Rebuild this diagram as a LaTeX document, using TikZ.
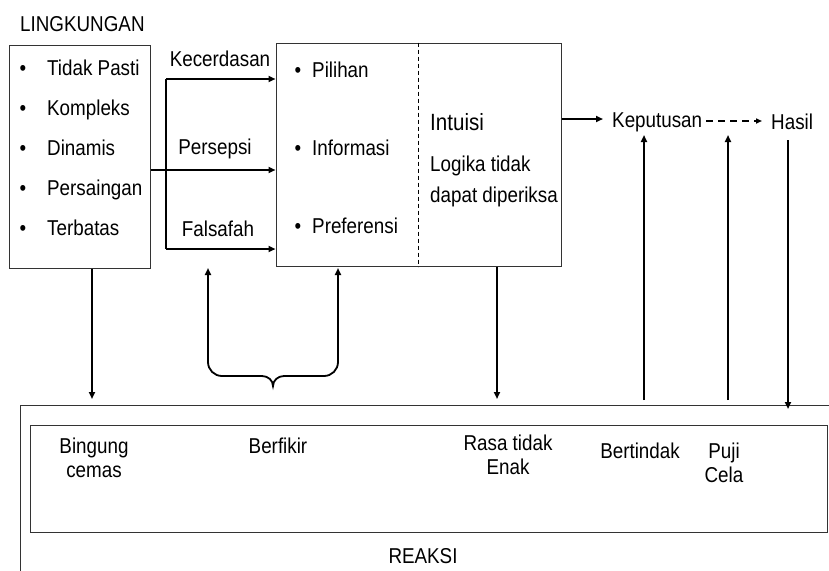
\documentclass[tikz,border=0pt]{standalone}
\usepackage{fontspec}
\setmainfont{Liberation Sans}[FakeStretch=0.875]
\usetikzlibrary{arrows.meta}
\begin{document}
\begin{tikzpicture}[x=1pt,y=-1pt,
  box/.style={draw=black!80, line width=1pt, inner sep=0pt},
  arr/.style={line width=1.8pt, -{Triangle[length=7pt,width=6pt]}},
  brc/.style={line width=1.8pt, {Triangle[length=7pt,width=6pt]}-{Triangle[length=7pt,width=6pt]}},
  lbl/.style={inner sep=0pt, anchor=base, font=\fontsize{21.5}{25}\selectfont},
  lblw/.style={lbl, anchor=base west},
  big/.style={inner sep=0pt, anchor=base west, font=\fontsize{23.5}{26}\selectfont}]
\useasboundingbox (0,0) rectangle (829,570);

% boxes
\node[box, minimum width=141pt, minimum height=223pt] (env) at (79.5,156.5) {};
\node[box, minimum width=285pt, minimum height=223pt] (mid) at (418.5,154.5) {};
\coordinate (dv) at (418,0);
\draw[line width=0.8pt, dash pattern=on 4pt off 3pt] (mid.north -| dv) -- (mid.south -| dv);
\node[box, anchor=north west, minimum width=840pt, minimum height=220pt] (reaksi) at (20,405) {};
\node[box, line width=1.2pt, anchor=north west, minimum width=797pt, minimum height=107pt] (inner) at (30,425) {};

% texts
\node[lblw] (ling) at (20,31) {LINGKUNGAN};
\foreach \t/\yy/\n in {Tidak Pasti/75/a, Kompleks/115/b, Dinamis/155/c, Persaingan/195/d, Terbatas/235/e}{
  \node[lblw] (et\n) at (47,\yy) {\t};
  \node[lbl] (eb\n) at (23,\yy) {•};
}
\foreach \t/\yy/\n in {Pilihan/77/a, Informasi/155/b, Preferensi/233/c}{
  \node[lblw] (mt\n) at (312,\yy) {\t};
  \node[lbl] (mb\n) at (298,\yy) {•};
}
\node[big] (intu) at (430,130) {Intuisi};
\node[lblw] (log1) at (430,171) {Logika tidak};
\node[lblw] (log2) at (430,202) {dapat diperiksa};

\node[lbl] (kec) at (220,66) {Kecerdasan};
\node[lbl] (per) at (215,154) {Persepsi};
\node[lbl] (fal) at (218,236) {Falsafah};

\node[lblw] (kep) at (612,127) {Keputusan};
\node[lblw] (hasil) at (771,129) {Hasil};

\node[lbl] (bing1) at (94,453) {Bingung};
\node[lbl] (bing2) at (94,477) {cemas};
\node[lbl] (berf) at (278,453) {Berfikir};
\node[lbl] (rasa1) at (508,450) {Rasa tidak};
\node[lbl] (rasa2) at (508,474) {Enak};
\node[lbl] (bert) at (640,458) {Bertindak};
\node[lbl] (puji1) at (724,458) {Puji};
\node[lbl] (puji2) at (724,482) {Cela};
\node[lbl] (rea) at (423,563) {REAKSI};

% connectors left
\coordinate (kx) at (166,79);
\coordinate (fx) at (166,249);
\coordinate (px) at (0,170);
\draw[line width=1.8pt] (kx) -- (fx);
\draw[arr] (kx) -- (kx -| mid.west);
\draw[arr] (fx) -- (fx -| mid.west);
\draw[arr] (env.east |- px) -- (px -| mid.west);

% down arrows
\coordinate (e1) at (92,399);
\draw[arr] (env.south -| e1) -- (e1);
\coordinate (m1) at (497,399);
\draw[arr] (mid.south -| m1) -- (m1);

% brace with arrows
\draw[brc] (208,268) -- (208,362) to[out=-90,in=180] (222,376) -- (262,376)
  to[out=0,in=90] (273,386) to[out=90,in=180] (284,376) -- (324,376)
  to[out=0,in=-90] (338,362) -- (338,268);

% right part
\coordinate (k1) at (603,119);
\draw[arr] (mid.east |- k1) -- (k1);
\coordinate (d1) at (706,121);
\coordinate (d2) at (762,121);
\draw[line width=1.5pt, dash pattern=on 7pt off 5pt, -{Triangle[length=6pt,width=5pt]}] (d1) -- (d2);
\coordinate (u1s) at (644,400);
\coordinate (u1e) at (644,135);
\draw[arr] (u1s) -- (u1e);
\coordinate (u2s) at (728,400);
\coordinate (u2e) at (728,135);
\draw[arr] (u2s) -- (u2e);
\coordinate (h1s) at (788,140);
\coordinate (h1e) at (788,409);
\draw[arr] (h1s) -- (h1e);
\end{tikzpicture}
\end{document}
